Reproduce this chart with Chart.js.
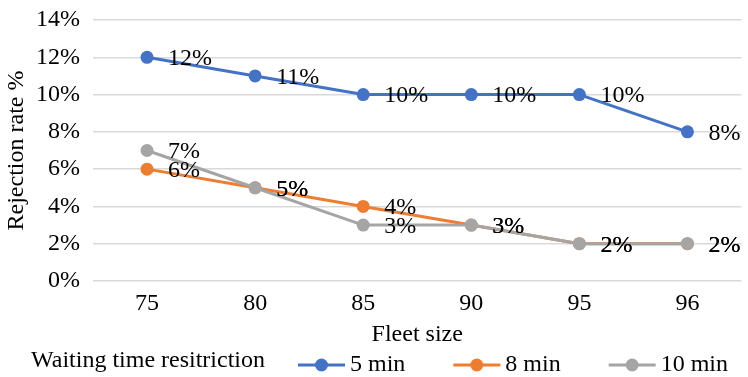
<!DOCTYPE html>
<html>
<head>
<meta charset="utf-8">
<script src="https://cdn.jsdelivr.net/npm/chart.js@4/dist/chart.umd.min.js"></script>
<style>
  html, body { margin: 0; padding: 0; background: #ffffff; }
  #wrap { width: 748px; height: 377px; }
</style>
</head>
<body>
<div id="wrap"><canvas id="c" width="748" height="377"></canvas></div>
<script>
// Fleet sizes on the x axis
const fleetSizes = ['75', '80', '85', '90', '95', '96'];
// Rejection rate (%) per waiting-time restriction
const rate5min  = [12, 11, 10, 10, 10, 8];
const rate8min  = [6, 5, 4, 3, 2, 2];
const rate10min = [7, 5, 3, 3, 2, 2];
const seriesNames = ['5 min', '8 min', '10 min'];
const legendTitle = 'Waiting time resitriction';
const yTicks = [0, 2, 4, 6, 8, 10, 12, 14];

const FONT = '"Liberation Serif", "Times New Roman", serif';
const COLORS = ['#4472C4', '#ED7D31', '#A5A5A5'];

// Value labels to the right of each point
const valueLabels = {
  id: 'valueLabels',
  afterDatasetsDraw(chart) {
    const ctx = chart.ctx;
    ctx.save();
    ctx.font = '24px ' + FONT;
    ctx.fillStyle = '#000000';
    ctx.textAlign = 'left';
    ctx.textBaseline = 'middle';
    chart.data.datasets.forEach((ds, i) => {
      const meta = chart.getDatasetMeta(i);
      meta.data.forEach((pt, j) => {
        ctx.fillText(ds.data[j] + '%', pt.x + 21, pt.y + 1.5);
      });
    });
    ctx.restore();
  }
};

// Single-row legend with a title on the left and line+marker samples
const inlineLegend = {
  id: 'inlineLegend',
  afterDraw(chart) {
    const ctx = chart.ctx;
    ctx.save();
    ctx.font = '24px ' + FONT;
    ctx.fillStyle = '#000000';
    ctx.textBaseline = 'middle';
    ctx.textAlign = 'left';
    ctx.fillText(legendTitle, 31, 361);
    let x = 298;
    const y = 365;
    chart.data.datasets.forEach((ds) => {
      ctx.strokeStyle = ds.borderColor;
      ctx.lineWidth = 3;
      ctx.beginPath();
      ctx.moveTo(x, y);
      ctx.lineTo(x + 47, y);
      ctx.stroke();
      ctx.fillStyle = ds.backgroundColor;
      ctx.beginPath();
      ctx.arc(x + 23.5, y, 6.5, 0, Math.PI * 2);
      ctx.fill();
      ctx.fillStyle = '#000000';
      ctx.fillText(ds.label, x + 52, y);
      x += 52 + ctx.measureText(ds.label).width + 48;
    });
    ctx.restore();
  }
};

const makeSet = (label, data, color, order) => ({
  label, data, order,
  borderColor: color,
  backgroundColor: color,
  borderWidth: 3,
  borderJoinStyle: 'round',
  borderCapStyle: 'round',
  pointRadius: 6.5,
  pointHoverRadius: 6.5,
  pointBorderWidth: 0,
  pointBackgroundColor: color,
  tension: 0
});

new Chart(document.getElementById('c'), {
  type: 'line',
  data: {
    labels: fleetSizes,
    datasets: [
      makeSet(seriesNames[0], rate5min, COLORS[0], 2),
      makeSet(seriesNames[1], rate8min, COLORS[1], 1),
      makeSet(seriesNames[2], rate10min, COLORS[2], 0)
    ]
  },
  options: {
    responsive: false,
    animation: false,
    layout: { padding: { top: 20, right: 0, bottom: 28, left: 0 } },
    plugins: {
      legend: { display: false },
      tooltip: { enabled: false }
    },
    scales: {
      x: {
        offset: true,
        afterFit(scale) { scale.height = 68; },
        grid: { display: false, drawTicks: false },
        border: { display: false },
        ticks: { color: '#000000', font: { family: FONT, size: 24 }, padding: 8 },
        title: {
          display: true, text: 'Fleet size', color: '#000000',
          font: { family: FONT, size: 24 }, padding: { top: 2, bottom: 0 }
        }
      },
      y: {
        min: yTicks[0],
        max: yTicks[yTicks.length - 1],
        afterBuildTicks(scale) { scale.ticks = yTicks.map(v => ({ value: v })); },
        afterFit(scale) {
          scale.width = 93;
          scale.paddingTop = 0;
          scale.paddingBottom = 0;
        },
        grid: { color: '#D9D9D9', lineWidth: 1.5, drawTicks: false },
        border: { display: false },
        ticks: {
          color: '#000000', font: { family: FONT, size: 24 }, padding: 13,
          callback: v => v + '%'
        },
        title: {
          display: true, text: 'Rejection rate %', color: '#000000',
          font: { family: FONT, size: 24 }, padding: { top: 2.5, bottom: 0 }
        }
      }
    }
  },
  plugins: [valueLabels, inlineLegend]
});
</script>
</body>
</html>
